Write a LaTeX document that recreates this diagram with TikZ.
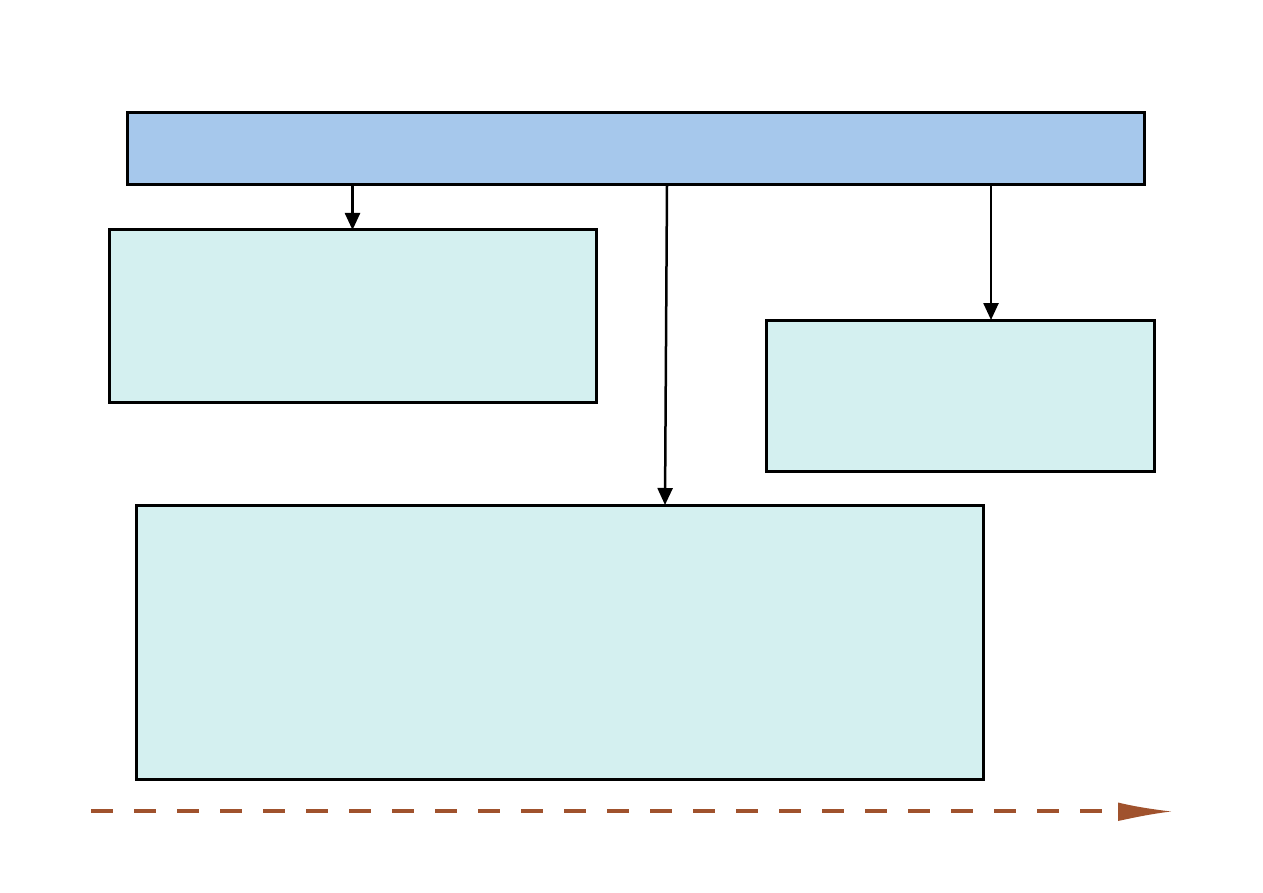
\documentclass[tikz,border=0pt]{standalone}
\usetikzlibrary{arrows.meta}
\definecolor{topblue}{HTML}{A6C8EC}
\definecolor{lightcyan}{HTML}{D4F0F0}
\definecolor{sienna}{HTML}{A0522D}
\begin{document}
\begin{tikzpicture}[x=1pt,y=-1pt,
  box/.style={draw=black, line width=3pt, rectangle, inner sep=0pt, outer sep=0pt},
  arr/.style={draw=black, line width=2.5pt, -{Triangle[length=17pt,width=15pt]}},
  timeline/.style={draw=sienna, line width=3.5pt, dash pattern=on 22pt off 21pt}]
\useasboundingbox[fill=white] (0,0) rectangle (1263,893);
\node[box, fill=topblue, minimum width=1017pt, minimum height=72pt] (top) at (635.5,149) {};
\node[box, fill=lightcyan, minimum width=487pt, minimum height=172pt] (left) at (352.5,316) {};
\node[box, fill=lightcyan, minimum width=388pt, minimum height=151pt] (right) at (960,395.5) {};
\node[box, fill=lightcyan, minimum width=847pt, minimum height=274pt] (bottom) at (559.5,642) {};
\draw[arr] (top.south -| left.north) -- (left.north);
\draw[arr] (top.south -| 667,0) -- (bottom.north -| 665,0);
\draw[arr] (top.south -| 991,0) -- (right.north -| 991,0);
\coordinate (tstart) at (91,811);
\coordinate (tend) at (1118,811);
\draw[timeline] (tstart) -- (tend);
\fill[sienna] (1118,802.5) -- (1118,821) .. controls (1132,818) and (1150,814) .. (1171,811.5) .. controls (1150,809) and (1132,806) .. (1118,802.5) -- cycle;
\end{tikzpicture}
\end{document}
